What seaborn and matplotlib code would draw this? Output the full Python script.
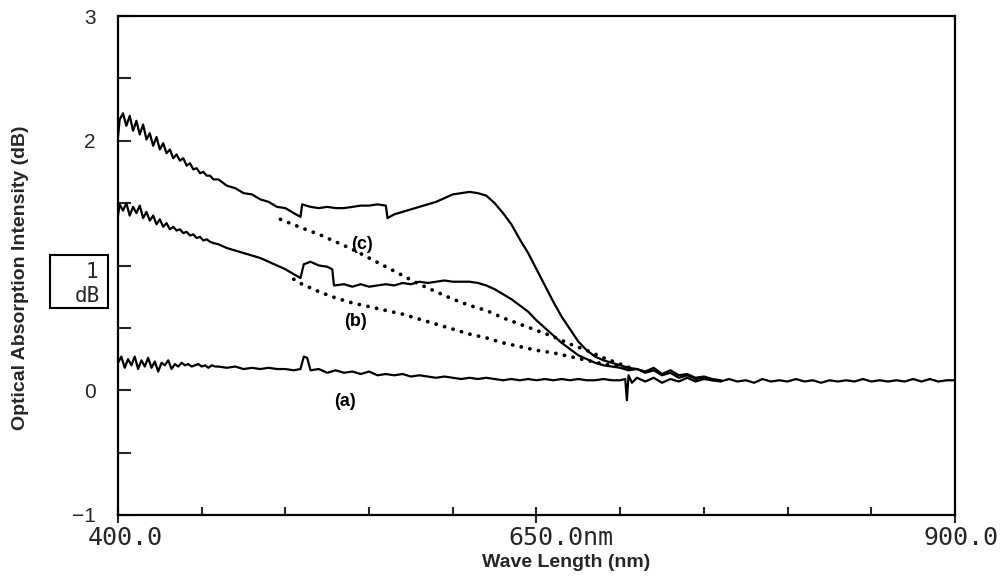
import matplotlib
matplotlib.use("Agg")
import numpy as np
import pandas as pd
import matplotlib.pyplot as plt
import seaborn as sns
from matplotlib.ticker import MultipleLocator, FixedLocator
import matplotlib.transforms as mtransforms
from matplotlib.patches import Rectangle

# ---------------- data ----------------
wl_a = [400, 402, 404, 406, 408, 410, 412, 414, 416, 418, 420, 422, 424, 426, 428, 430,
        432, 434, 436, 438, 440, 442, 444, 446, 448, 450, 452, 454, 456, 458, 460,
        465, 470, 475, 480, 485, 490, 495, 500, 505, 509, 511, 513, 515, 520, 525, 530,
        535, 540, 545, 550, 555, 560, 565, 570, 575, 580, 585, 590, 595, 600, 605, 610,
        615, 620, 625, 630, 635, 640, 645, 650, 655, 660, 665, 670, 675, 680, 685, 690,
        695, 700, 703, 704, 705, 707, 710, 715, 720, 725, 730, 735, 740, 745, 750, 755,
        760, 765, 770, 775, 780, 785, 790, 795, 800, 805, 810, 815, 820, 825, 830, 835,
        840, 845, 850, 855, 860, 865, 870, 875, 880, 885, 890, 895, 900]
abs_a = [0.22, 0.27, 0.18, 0.25, 0.20, 0.27, 0.17, 0.24, 0.19, 0.26, 0.18, 0.23, 0.15, 0.22, 0.20, 0.24,
         0.17, 0.21, 0.19, 0.22, 0.20, 0.21, 0.19, 0.20, 0.21, 0.19, 0.20, 0.18, 0.20, 0.19, 0.19,
         0.18, 0.19, 0.17, 0.18, 0.17, 0.18, 0.17, 0.17, 0.16, 0.17, 0.27, 0.26, 0.16, 0.17, 0.14, 0.16,
         0.14, 0.15, 0.13, 0.15, 0.12, 0.13, 0.12, 0.13, 0.11, 0.12, 0.11, 0.10, 0.11, 0.10, 0.09, 0.10,
         0.09, 0.10, 0.09, 0.08, 0.09, 0.08, 0.09, 0.08, 0.09, 0.08, 0.09, 0.08, 0.09, 0.08, 0.08, 0.09,
         0.08, 0.08, 0.09, -0.08, 0.12, 0.06, 0.10, 0.07, 0.10, 0.06, 0.09, 0.07, 0.10, 0.07, 0.09, 0.08,
         0.07, 0.09, 0.07, 0.08, 0.06, 0.09, 0.07, 0.08, 0.07, 0.09, 0.07, 0.08, 0.06, 0.08, 0.07, 0.08,
         0.07, 0.09, 0.07, 0.08, 0.07, 0.08, 0.07, 0.09, 0.07, 0.09, 0.07, 0.08, 0.08]

wl_b = [400, 401, 403, 405, 407, 409, 411, 413, 415, 417, 419, 421, 423, 425, 427, 429,
        431, 433, 435, 437, 439, 441, 443, 445, 447, 449, 451, 453, 455, 457, 460,
        465, 470, 475, 480, 485, 490, 495, 500, 505, 509, 511, 515, 520, 525, 528, 529,
        535, 540, 545, 550, 555, 560, 565, 570, 575, 580, 585, 590, 595, 600, 605, 610,
        615, 620, 625, 630, 635, 640, 645, 650, 655, 660, 665, 670, 675, 680, 685, 690,
        695, 700, 705, 710, 715, 720, 725, 730, 735, 740, 745, 750, 755, 760]
abs_b = [1.40, 1.49, 1.44, 1.50, 1.40, 1.47, 1.42, 1.48, 1.38, 1.43, 1.36, 1.40, 1.33, 1.37, 1.31, 1.34,
         1.29, 1.31, 1.28, 1.29, 1.26, 1.27, 1.24, 1.25, 1.22, 1.23, 1.20, 1.21, 1.19, 1.18, 1.17,
         1.14, 1.12, 1.10, 1.08, 1.06, 1.03, 1.00, 0.97, 0.93, 0.90, 1.01, 1.03, 1.00, 0.99, 0.97, 0.84,
         0.85, 0.83, 0.85, 0.83, 0.84, 0.85, 0.84, 0.86, 0.85, 0.87, 0.86, 0.87, 0.88, 0.87, 0.87, 0.87,
         0.86, 0.84, 0.81, 0.77, 0.73, 0.68, 0.63, 0.56, 0.50, 0.44, 0.38, 0.33, 0.28, 0.25, 0.22, 0.20,
         0.19, 0.18, 0.16, 0.17, 0.14, 0.16, 0.12, 0.14, 0.10, 0.12, 0.09, 0.10, 0.08, 0.08]

wl_c = [400, 401, 403, 405, 407, 409, 411, 413, 415, 417, 419, 421, 423, 425, 427, 429,
        431, 433, 435, 437, 439, 441, 443, 445, 447, 449, 451, 453, 455, 457, 460,
        465, 470, 475, 480, 485, 490, 495, 500, 505, 509, 510, 515, 520, 525, 530, 535,
        540, 545, 550, 555, 560, 561, 565, 570, 575, 580, 585, 590, 595, 600, 605, 610,
        615, 620, 625, 630, 635, 640, 645, 650, 655, 660, 665, 670, 675, 680, 685, 690,
        695, 700, 705, 710, 715, 720, 725, 730, 735, 740, 745, 750, 755, 760]
abs_c = [2.03, 2.17, 2.22, 2.12, 2.20, 2.08, 2.16, 2.05, 2.13, 2.01, 2.06, 1.96, 2.03, 1.93, 1.98, 1.90,
         1.93, 1.86, 1.89, 1.84, 1.86, 1.80, 1.82, 1.77, 1.78, 1.74, 1.75, 1.72, 1.72, 1.69, 1.69,
         1.64, 1.62, 1.58, 1.57, 1.53, 1.51, 1.47, 1.46, 1.42, 1.39, 1.49, 1.47, 1.46, 1.47, 1.46, 1.46,
         1.47, 1.48, 1.48, 1.49, 1.48, 1.38, 1.41, 1.43, 1.45, 1.47, 1.49, 1.51, 1.54, 1.57, 1.58, 1.59,
         1.58, 1.56, 1.50, 1.42, 1.33, 1.21, 1.10, 0.97, 0.84, 0.71, 0.59, 0.49, 0.39, 0.32, 0.27, 0.24,
         0.22, 0.20, 0.18, 0.17, 0.15, 0.18, 0.13, 0.16, 0.12, 0.13, 0.10, 0.11, 0.09, 0.08]

# dotted baselines under the absorption bands
wl_base_b = [505, 510, 520, 530, 540, 550, 560, 570, 580, 590, 600, 610, 620, 630, 640,
             650, 660, 670, 680, 690, 700, 706]
base_b = [0.89, 0.85, 0.79, 0.74, 0.70, 0.67, 0.64, 0.61, 0.57, 0.53, 0.49, 0.45, 0.42, 0.38, 0.35,
          0.32, 0.30, 0.27, 0.24, 0.21, 0.19, 0.17]
wl_base_c = [497, 510, 520, 530, 540, 550, 560, 570, 580, 590, 600, 610, 620, 630, 640,
             650, 660, 670, 680, 690, 700, 706]
base_c = [1.37, 1.30, 1.25, 1.19, 1.13, 1.06, 0.99, 0.92, 0.85, 0.79, 0.73, 0.68, 0.64, 0.58, 0.53,
          0.48, 0.43, 0.37, 0.32, 0.26, 0.21, 0.18]

curve_labels = ["(a)", "(b)", "(c)"]
label_pos_x = [535.6, 541.6, 545.8]
label_pos_y = [-0.09, 0.55, 1.17]

x_major = [400, 650, 900]
x_major_labels = ["400.0", "650.0nm", "900.0"]
y_major = [-1, 0, 1, 2, 3]
y_major_labels = ["\u22121", "0", "", "2", "3"]   # the "1" sits in the "1 dB" scale box
scale_box_text = ["1", "dB"]

# ---------------- figure ----------------
sns.set_style("ticks")
plt.rcParams['font.family'] = ['Liberation Sans', 'DejaVu Sans']

W, H = 1002, 576
fig = plt.figure(figsize=(W / 100, H / 100), dpi=100)
ax = fig.add_axes([118 / W, 1 - 515 / H, (955 - 118) / W, (515 - 16) / H])

lw_solid = 1.6
for wl, val in [(wl_a, abs_a), (wl_b, abs_b), (wl_c, abs_c)]:
    df = pd.DataFrame({"wl": wl, "val": val})
    sns.lineplot(data=df, x="wl", y="val", ax=ax, estimator=None, sort=False,
                 color="black", linewidth=lw_solid)

for wl, val in [(wl_base_b, base_b), (wl_base_c, base_c)]:
    df = pd.DataFrame({"wl": wl, "val": val})
    sns.lineplot(data=df, x="wl", y="val", ax=ax, estimator=None, sort=False,
                 color="black", linewidth=2.7, linestyle=(0, (0.05, 2.3)),
                 dash_capstyle="round")

for t, xx, yy in zip(curve_labels, label_pos_x, label_pos_y):
    ax.text(xx, yy, t, ha="center", va="center", fontsize=13, fontweight="bold",
            color="black")

ax.set_xlim(400, 900)
ax.set_ylim(-1, 3)

ax.xaxis.set_major_locator(FixedLocator(x_major))
ax.set_xticklabels(x_major_labels, family="DejaVu Sans Mono", fontsize=18)
ax.xaxis.set_minor_locator(MultipleLocator(50))
ax.yaxis.set_major_locator(FixedLocator(y_major))
ax.set_yticklabels(y_major_labels, fontsize=15)
ax.yaxis.set_minor_locator(MultipleLocator(0.5))

ax.tick_params(axis="x", which="major", direction="inout", length=12, width=1.5, pad=2)
ax.tick_params(axis="x", which="minor", direction="in", length=6, width=1.5)
ax.tick_params(axis="y", which="both", direction="in", length=9, width=1.5, pad=16)

# shift the "650.0nm" label so its number sits on the tick
mid = ax.get_xticklabels()[1]
mid.set_transform(mid.get_transform() + mtransforms.ScaledTranslation(24 / 100, 0, fig.dpi_scale_trans))
right = ax.get_xticklabels()[2]
right.set_transform(right.get_transform() + mtransforms.ScaledTranslation(6 / 100, 0, fig.dpi_scale_trans))
left = ax.get_xticklabels()[0]
left.set_transform(left.get_transform() + mtransforms.ScaledTranslation(7 / 100, 0, fig.dpi_scale_trans))

for s in ax.spines.values():
    s.set_linewidth(1.6)
    s.set_color("black")

ax.set_xlabel("Wave Length (nm)", fontsize=14, fontweight="bold")
ax.xaxis.set_label_coords(0.535, -0.078)
ax.set_ylabel("Optical Absorption Intensity (dB)", fontsize=14, fontweight="bold")
ax.yaxis.set_label_coords(-0.106, 0.475)

# scale box "1 dB"
fig.patches.append(Rectangle((50 / W, 1 - 308 / H), 58 / W, 53 / H, transform=fig.transFigure,
                             fill=False, edgecolor="black", linewidth=1.5))
fig.text(98 / W, 1 - 272 / H, scale_box_text[0], ha="right", va="center",
         family="DejaVu Sans Mono", fontsize=15)
fig.text(100 / W, 1 - 296 / H, scale_box_text[1], ha="right", va="center",
         family="DejaVu Sans Mono", fontsize=15)

fig.savefig("out.png", dpi=100, facecolor="white")
